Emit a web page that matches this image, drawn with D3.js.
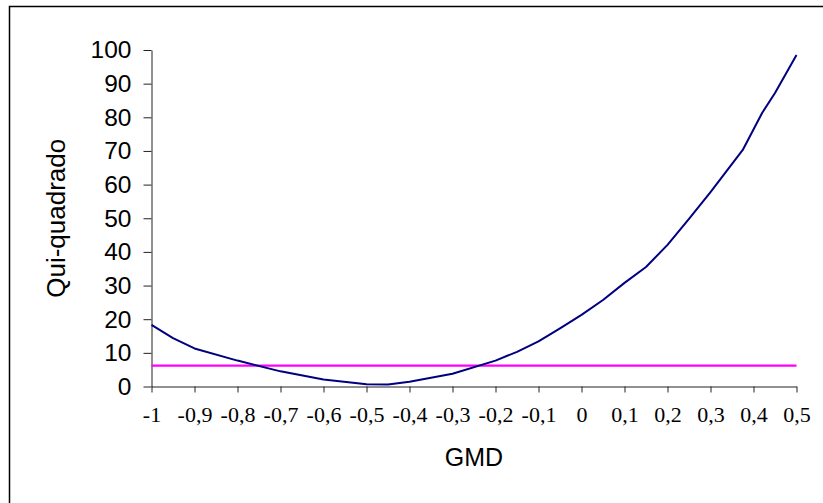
<!DOCTYPE html>
<html>
<head>
<meta charset="utf-8">
<script src="https://cdn.jsdelivr.net/npm/d3@7"></script>
<style>
  body { margin: 0; background: #fff; }
  svg { display: block; }
</style>
</head>
<body>
<div id="chart"></div>
<script>
// values
const gmd = [-1, -0.95, -0.9, -0.8, -0.7, -0.6, -0.5, -0.45, -0.4, -0.3, -0.2, -0.15, -0.1, -0.05,
             0, 0.05, 0.1, 0.15, 0.2, 0.25, 0.3, 0.375, 0.42, 0.45, 0.5];
const quiQuadrado = [18.3, 14.4, 11.3, 7.7, 4.5, 2.1, 0.7, 0.6, 1.4, 3.8, 7.7, 10.3, 13.4, 17.3,
                     21.3, 25.7, 30.8, 35.5, 42.1, 49.8, 57.8, 70.3, 81.3, 87.2, 98.5];
const critico = 6.2; // horizontal reference line
const xTicks = [-1, -0.9, -0.8, -0.7, -0.6, -0.5, -0.4, -0.3, -0.2, -0.1, 0, 0.1, 0.2, 0.3, 0.4, 0.5];
const yTicks = [0, 10, 20, 30, 40, 50, 60, 70, 80, 90, 100];

const width = 823, height = 503;
const margin = {left: 151.5, right: 26.5, top: 50, bottom: 116.5};

const svg = d3.select("#chart").append("svg")
    .attr("width", width)
    .attr("height", height);

// outer frame (only left and top edges show)
svg.append("rect")
    .attr("x", 9.5).attr("y", 6.5)
    .attr("width", 840).attr("height", 520)
    .attr("fill", "none")
    .attr("stroke", "#000")
    .attr("stroke-width", 1.5);

const x = d3.scaleLinear().domain([-1, 0.5]).range([margin.left, width - margin.right]);
const y = d3.scaleLinear().domain([0, 100]).range([height - margin.bottom, margin.top]);

const fmt = d => String(d).replace(".", ",");

// x axis
const gx = svg.append("g")
    .attr("transform", "translate(0," + y(0) + ")")
    .call(d3.axisBottom(x).tickValues(xTicks).tickFormat(fmt).tickSize(6).tickPadding(14).tickSizeOuter(0));
gx.selectAll("text")
    .attr("font-family", "'Liberation Serif', 'Times New Roman', serif")
    .attr("font-size", 22)
    .attr("fill", "#000");

// y axis
const gy = svg.append("g")
    .attr("transform", "translate(" + x(-1) + ",0)")
    .call(d3.axisLeft(y).tickValues(yTicks).tickSize(8).tickPadding(12).tickSizeOuter(0));
gy.selectAll("text")
    .attr("font-family", "'Liberation Sans', Arial, sans-serif")
    .attr("font-size", 24.5)
    .attr("fill", "#000");

svg.selectAll(".domain, .tick line").attr("stroke", "#222");

// axis titles
svg.append("text")
    .attr("x", (x(-1) + x(0.5)) / 2)
    .attr("y", 466)
    .attr("text-anchor", "middle")
    .attr("font-family", "'Liberation Sans', Arial, sans-serif")
    .attr("font-size", 25)
    .text("GMD");

svg.append("text")
    .attr("transform", "translate(65," + (y(0) + y(100)) / 2 + ") rotate(-90)")
    .attr("text-anchor", "middle")
    .attr("font-family", "'Liberation Sans', Arial, sans-serif")
    .attr("font-size", 26)
    .text("Qui-quadrado");

// reference line
const ref = gmd.map(g => ({g, v: critico}));
svg.append("path")
    .datum(ref)
    .attr("fill", "none")
    .attr("stroke", "#ff00ff")
    .attr("stroke-width", 2.2)
    .attr("d", d3.line().x(d => x(d.g)).y(d => y(d.v)));

// chi-square curve
const data = gmd.map((g, i) => ({g, v: quiQuadrado[i]}));
svg.append("path")
    .datum(data)
    .attr("fill", "none")
    .attr("stroke", "#000080")
    .attr("stroke-width", 2)
    .attr("stroke-linejoin", "round")
    .attr("d", d3.line().x(d => x(d.g)).y(d => y(d.v)));
</script>
</body>
</html>
